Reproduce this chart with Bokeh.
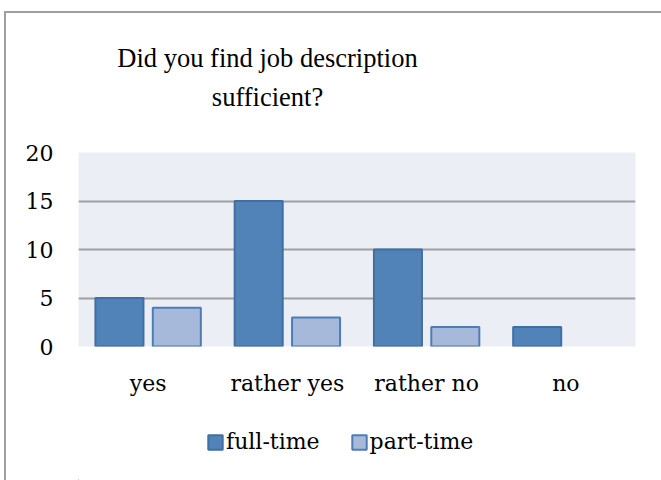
from bokeh.plotting import figure
from bokeh.layouts import column
from bokeh.models import (ColumnDataSource, FactorRange, Range1d, Legend, LegendItem,
                          Label, FixedTicker)
from bokeh.transform import dodge
from bokeh.embed import file_html
from bokeh.resources import INLINE

# Survey answers: "Did you find job description sufficient?"
categories = ["yes", "rather yes", "rather no", "no"]
full_time = [5, 15, 10, 2]
part_time = [4, 3, 2, 0]
series_names = ["full-time", "part-time"]
y_ticks = [0, 5, 10, 15, 20]
title_text = "Did you find job description\nsufficient?"

TITLE_FONT = "Liberation Serif"
FONT = "DejaVu Serif"
FULL_FILL, FULL_LINE = "#5283B8", "#3F6FA5"
PART_FILL, PART_LINE = "#A6B9DA", "#4C7DB5"
GRID = "#9F9F9F"
BAR_W = 0.345

source = ColumnDataSource(dict(
    cat=categories, full=full_time, part=part_time,
    # empty bars get no outline
    full_la=[1 if v > 0 else 0 for v in full_time],
    part_la=[1 if v > 0 else 0 for v in part_time],
))


def frame_line(left_edge_only):
    """Chart-area border painted behind a transparent canvas."""
    parts = [f"linear-gradient({GRID},{GRID}) 4px {0 if left_edge_only else 11}px / 2px 100% no-repeat"]
    if not left_edge_only:
        parts.append(f"linear-gradient({GRID},{GRID}) 4px 11px / 657px 2px no-repeat")
    parts.append("#ffffff")
    return {"background": ", ".join(parts)}


# ---- main chart ----
p = figure(
    width=661, height=415,
    x_range=FactorRange(*categories, range_padding=0),
    y_range=Range1d(0, 20),
    output_backend="svg", toolbar_location=None,
    min_border_left=78, min_border_right=26, min_border_top=152, min_border_bottom=69,
    background_fill_color="#EBEFF5", border_fill_alpha=0,
    outline_line_color=None,
)
p.styles = frame_line(False)

p.vbar(x=dodge("cat", -0.206, range=p.x_range), top="full", width=BAR_W,
       source=source, fill_color=FULL_FILL, line_color=FULL_LINE,
       line_alpha="full_la", line_width=2)
p.vbar(x=dodge("cat", 0.206, range=p.x_range), top="part", width=BAR_W,
       source=source, fill_color=PART_FILL, line_color=PART_LINE,
       line_alpha="part_la", line_width=2)

p.xgrid.grid_line_color = None
p.ygrid.ticker = FixedTicker(ticks=y_ticks)
p.ygrid.grid_line_color = GRID
p.ygrid.grid_line_width = 2
p.ygrid.level = "underlay"

p.yaxis.ticker = FixedTicker(ticks=y_ticks)
p.yaxis.axis_line_color = None
p.yaxis.major_tick_line_color = None
p.yaxis.minor_tick_line_color = None
p.yaxis.major_tick_out = 0
p.yaxis.major_label_standoff = 25
p.yaxis.major_label_text_font = FONT
p.yaxis.major_label_text_font_size = "22px"
p.yaxis.major_label_text_color = "black"

p.xaxis.axis_line_color = None
p.xaxis.major_tick_line_color = None
p.xaxis.major_tick_out = 0
p.xaxis.major_label_standoff = 24
p.xaxis.major_label_text_font = FONT
p.xaxis.major_label_text_font_size = "22px"
p.xaxis.major_label_text_color = "black"

p.add_layout(Label(x=189, y=41, x_units="screen", y_units="screen", text=title_text,
                   text_font=TITLE_FONT, text_font_size="26.5px", text_align="center",
                   text_baseline="bottom", text_line_height=1.3, text_color="black"),
             "above")

# ---- legend strip under the chart ----
leg = figure(
    width=661, height=65, x_range=Range1d(0, 1), y_range=Range1d(0, 1),
    output_backend="svg", toolbar_location=None,
    x_axis_location=None, y_axis_location=None, min_border=0,
    background_fill_alpha=0, border_fill_alpha=0, outline_line_color=None,
)
leg.styles = frame_line(True)
leg.grid.grid_line_color = None
# swatch renderers sit wholly outside the visible range; they only style the legend keys
swatch_src = ColumnDataSource(dict(x=[-5.0], bottom=[-6.0], top=[-5.0]))
swatch_full = leg.vbar(x="x", bottom="bottom", top="top", width=BAR_W, source=swatch_src,
                       fill_color=FULL_FILL, line_color=FULL_LINE, line_width=2)
swatch_part = leg.vbar(x="x", bottom="bottom", top="top", width=BAR_W, source=swatch_src,
                       fill_color=PART_FILL, line_color=PART_LINE, line_width=2)
legend = Legend(
    items=[LegendItem(label=series_names[0], renderers=[swatch_full]),
           LegendItem(label=series_names[1], renderers=[swatch_part])],
    location=(128, 26), orientation="horizontal",
    glyph_width=18, glyph_height=18, label_standoff=2, spacing=30,
    padding=0, margin=0, border_line_color=None, background_fill_alpha=0,
    label_text_font=FONT, label_text_font_size="22px", label_text_color="black",
)
leg.add_layout(legend, "center")

layout = column(p, leg, spacing=0)
open("out.html", "w").write(file_html(layout, INLINE))
